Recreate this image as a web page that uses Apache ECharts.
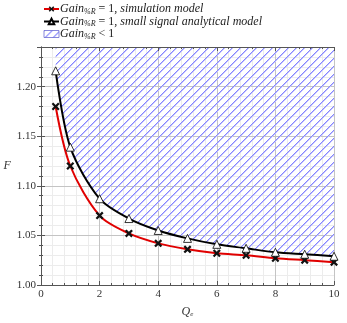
<!DOCTYPE html>
<html>
<head>
<meta charset="utf-8">
<script src="https://cdn.jsdelivr.net/npm/echarts@6/dist/echarts.min.js"></script>
<style>
  html, body { margin: 0; padding: 0; background: #fff; }
  #main { width: 347px; height: 323px; }
</style>
</head>
<body>
<div id="main"></div>
<script>
// Q_e values where the marks sit
var qe = [0.5, 1, 2, 3, 4, 5, 6, 7, 8, 9, 10]
// F for Gain = 1, simulation model
var simF = [1.180, 1.120, 1.070, 1.052, 1.042, 1.036, 1.032, 1.030, 1.027, 1.025, 1.023]
// F for Gain = 1, small signal analytical model
var anaF = [1.216, 1.139, 1.087, 1.067, 1.055, 1.047, 1.041, 1.037, 1.033, 1.031, 1.029]
var legendTails = {
  sim: '{n| = 1, }{i|simulation model}',
  ana: '{n| = 1, }{i|small signal analytical model}',
  hatch: '{n| < 1}'
}

function pairs(ys) {
  return qe.map(function (x, i) { return [x, ys[i]] })
}

// north east lines hatch, pixel by pixel so it stays crisp
function hatch() {
  var s = 8
  var c = document.createElement('canvas')
  c.width = s
  c.height = s
  var ctx = c.getContext('2d')
  for (var k = 0; k < s; k++) {
    ctx.fillStyle = '#8585ff'
    ctx.fillRect(k, s - 1 - k, 1, 1)
    ctx.fillStyle = '#c4c4ff'
    ctx.fillRect((k + 1) % s, s - 1 - k, 1, 1)
  }
  return { image: c, repeat: 'repeat' }
}
var pattern = hatch()

var serif = 'Liberation Serif'
// bold x mark
var crossPath = 'path://M0,2L2,0L5,3L8,0L10,2L7,5L10,8L8,10L5,7L2,10L0,8L3,5Z'
var smoothK = 0.3

var myChart = echarts.init(document.getElementById('main'))

function xAx(pos, interval, major) {
  return {
    type: 'value', position: pos, min: 0, max: 10, interval: interval,
    axisLine: { show: major, lineStyle: { color: '#555', width: 1 } },
    axisTick: { show: true, inside: true, length: major ? 4 : 2, lineStyle: { color: '#555' } },
    axisLabel: {
      show: major && pos === 'bottom', color: '#333', fontFamily: serif, fontSize: 11, margin: 4
    },
    splitLine: {
      show: pos === 'bottom',
      lineStyle: { color: major ? '#c4c4c4' : '#ececec', width: 1 }
    },
    name: major && pos === 'bottom' ? '{i|Q}{s|e}' : '',
    nameLocation: 'middle',
    nameGap: 20,
    nameTextStyle: {
      rich: {
        i: { fontFamily: serif, fontStyle: 'italic', fontSize: 12, color: '#333' },
        s: { fontFamily: serif, fontStyle: 'italic', fontSize: 7, color: '#333', padding: [6, 0, 0, 0] }
      }
    },
    z: major ? 3 : 2
  }
}

function yAx(pos, interval, major) {
  return {
    type: 'value', position: pos, min: 1.0, max: 1.24, interval: interval,
    axisLine: { show: major, lineStyle: { color: '#555', width: 1 } },
    axisTick: { show: true, inside: true, length: major ? 4 : 2, lineStyle: { color: '#555' } },
    axisLabel: {
      show: major && pos === 'left', color: '#333', fontFamily: serif, fontSize: 11, margin: 5,
      showMaxLabel: false,
      formatter: function (v) { return v.toFixed(2) }
    },
    splitLine: {
      show: pos === 'left',
      lineStyle: { color: major ? '#c4c4c4' : '#ececec', width: 1 }
    },
    name: major && pos === 'left' ? 'F' : '',
    nameLocation: 'middle',
    nameRotate: 0,
    nameGap: 26,
    nameTextStyle: { fontFamily: serif, fontStyle: 'italic', fontSize: 12, color: '#333' },
    z: major ? 3 : 2
  }
}

var option = {
  animation: false,
  grid: { left: 41, right: 13, top: 47, bottom: 32 },
  legend: {
    orient: 'vertical',
    left: 38,
    top: -2,
    itemWidth: 15,
    itemHeight: 7,
    itemGap: 0,
    data: [
      { name: 'sim' },
      { name: 'ana' },
      { name: 'hatch', icon: 'rect', itemStyle: { color: pattern, borderColor: '#6a6ad0', borderWidth: 0.8 } }
    ],
    formatter: function (name) {
      return '{i|Gain}{s|%R}' + legendTails[name]
    },
    textStyle: {
      padding: [0, 0, 0, -4],
      rich: {
        i: { fontFamily: serif, fontStyle: 'italic', fontSize: 12, color: '#222' },
        n: { fontFamily: serif, fontSize: 12, color: '#222' },
        s: { fontFamily: serif, fontStyle: 'italic', fontSize: 8, color: '#222', padding: [5, 0, 0, 0] }
      }
    }
  },
  xAxis: [
    xAx('bottom', 2, true),
    xAx('bottom', 0.4, false),
    xAx('top', 2, true),
    xAx('top', 0.4, false)
  ],
  yAxis: [
    yAx('left', 0.05, true),
    yAx('left', 0.01, false),
    yAx('right', 0.05, true),
    yAx('right', 0.01, false)
  ],
  series: [
    {
      name: 'hatch',
      type: 'line',
      data: pairs(anaF),
      smooth: smoothK,
      showSymbol: false,
      symbol: 'none',
      lineStyle: { width: 0 },
      itemStyle: { color: pattern },
      areaStyle: { origin: 'end', color: pattern, opacity: 1 },
      z: 3
    },
    {
      name: 'sim',
      type: 'line',
      data: pairs(simF),
      smooth: smoothK,
      symbol: crossPath,
      symbolSize: 8,
      lineStyle: { color: '#e00000', width: 2 },
      itemStyle: { color: '#111' },
      z: 4
    },
    {
      name: 'ana',
      type: 'line',
      data: pairs(anaF),
      smooth: smoothK,
      symbol: 'triangle',
      symbolSize: 8,
      lineStyle: { color: '#000', width: 2 },
      itemStyle: { color: '#fff', borderColor: '#000', borderWidth: 0.8 },
      z: 5
    }
  ]
}
myChart.setOption(option)
</script>
</body>
</html>
